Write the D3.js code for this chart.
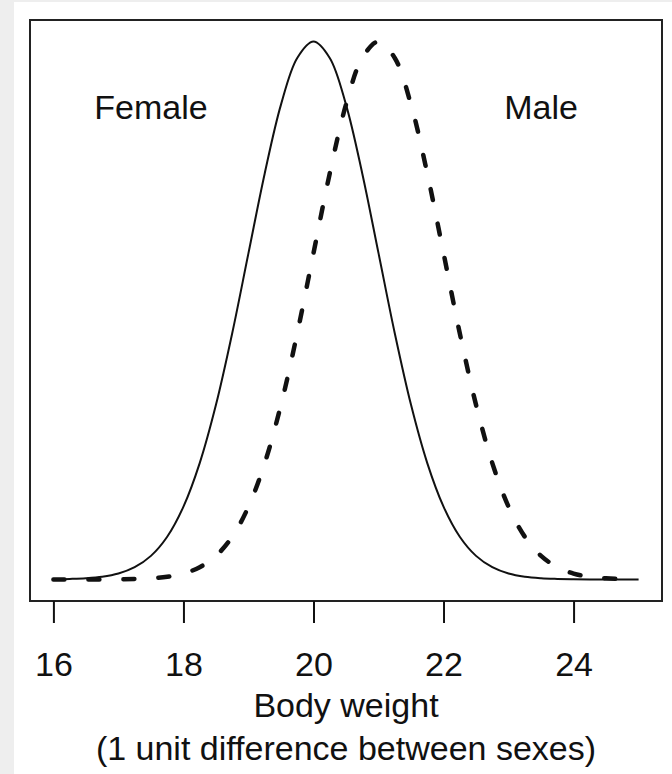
<!DOCTYPE html>
<html>
<head>
<meta charset="utf-8">
<script src="https://cdn.jsdelivr.net/npm/d3@7"></script>
<style>
  html, body { margin: 0; padding: 0; background: #eeeeee; }
  svg { display: block; }
  text { font-family: "Liberation Sans", Arial, Helvetica, sans-serif; fill: #111; }
</style>
</head>
<body>
<script>
// Body weight grid (x) and density of each sex at that weight
const weights = [16, 16.25, 16.5, 16.75, 17, 17.25, 17.5, 17.75, 18, 18.25, 18.5, 18.75,
                 19, 19.25, 19.5, 19.75, 20, 20.25, 20.5, 20.75, 21, 21.25, 21.5, 21.75,
                 22, 22.25, 22.5, 22.75, 23, 23.25, 23.5, 23.75, 24, 24.25, 24.5, 24.75, 25];
const female = [0.0001, 0.0004, 0.0009, 0.0020, 0.0044, 0.0091, 0.0175, 0.0317, 0.0540, 0.0863,
                0.1295, 0.1826, 0.2420, 0.3011, 0.3521, 0.3867, 0.3989, 0.3867, 0.3521, 0.3011,
                0.2420, 0.1826, 0.1295, 0.0863, 0.0540, 0.0317, 0.0175, 0.0091, 0.0044, 0.0020,
                0.0009, 0.0004, 0.0001, 0.0000, 0.0000, 0.0000, 0.0000];
const male   = [0.0000, 0.0000, 0.0000, 0.0000, 0.0001, 0.0004, 0.0009, 0.0020, 0.0044, 0.0091,
                0.0175, 0.0317, 0.0540, 0.0863, 0.1295, 0.1826, 0.2420, 0.3011, 0.3521, 0.3867,
                0.3989, 0.3867, 0.3521, 0.3011, 0.2420, 0.1826, 0.1295, 0.0863, 0.0540, 0.0317,
                0.0175, 0.0091, 0.0044, 0.0020, 0.0009, 0.0004, 0.0001];
const xTicks = [16, 18, 20, 22, 24];
const groupLabels = [
  { text: "Female", x: 17.5, y: 0.35 },
  { text: "Male",   x: 23.5, y: 0.35 }
];
const xTitle = ["Body weight", "(1 unit difference between sexes)"];

const W = 672, H = 774;
const box = { left: 30, right: 662, top: 20, bottom: 601 };

const svg = d3.select("body").append("svg")
  .attr("width", W).attr("height", H);

// white page area
svg.append("rect").attr("x", 14).attr("y", 2)
  .attr("width", W - 14).attr("height", H - 2).attr("fill", "#ffffff");

// R-style 4% padding on both axes
const xr = d3.extent(weights);
const xpad = (xr[1] - xr[0]) * 0.04;
const x = d3.scaleLinear().domain([xr[0] - xpad, xr[1] + xpad]).range([box.left, box.right]);
const ymax = d3.max(female.concat(male));
const ypad = ymax * 0.04;
const y = d3.scaleLinear().domain([-ypad, ymax + ypad]).range([box.bottom, box.top]);

const line = vals => d3.line()
  .x((d, i) => x(weights[i]))
  .y(d => y(d))
  .curve(d3.curveCatmullRom.alpha(0.5))(vals);

svg.append("path").attr("d", line(female))
  .attr("fill", "none").attr("stroke", "#111").attr("stroke-width", 2);

svg.append("path").attr("d", line(male))
  .attr("fill", "none").attr("stroke", "#111").attr("stroke-width", 4.5)
  .attr("stroke-linecap", "round").attr("stroke-dasharray", "11,24");

// plot frame
svg.append("rect")
  .attr("x", box.left).attr("y", box.top)
  .attr("width", box.right - box.left).attr("height", box.bottom - box.top)
  .attr("fill", "none").attr("stroke", "#222").attr("stroke-width", 2);

// x axis: ticks hang below the frame, labels further down
const axis = d3.axisBottom(x).tickValues(xTicks).tickSize(22).tickPadding(33)
  .tickFormat(d3.format("d"));
const gAx = svg.append("g").attr("transform", `translate(0,${box.bottom})`).call(axis);
gAx.select(".domain").remove();
gAx.selectAll(".tick line").attr("stroke", "#111").attr("stroke-width", 2);
gAx.selectAll(".tick text")
  .attr("font-size", 34).attr("font-family", "Liberation Sans, Arial, sans-serif")
  .attr("fill", "#111").attr("dy", null).attr("y", 75);

// axis title, two lines
svg.selectAll(".xtitle").data(xTitle).enter().append("text")
  .attr("class", "xtitle")
  .attr("x", (box.left + box.right) / 2)
  .attr("y", (d, i) => 717 + i * 43)
  .attr("text-anchor", "middle").attr("font-size", 34)
  .text(d => d);

// group labels inside the plot
svg.selectAll(".glabel").data(groupLabels).enter().append("text")
  .attr("class", "glabel")
  .attr("x", d => x(d.x)).attr("y", d => y(d.y))
  .attr("dy", "0.35em")
  .attr("text-anchor", "middle").attr("font-size", 34)
  .text(d => d.text);
</script>
</body>
</html>
